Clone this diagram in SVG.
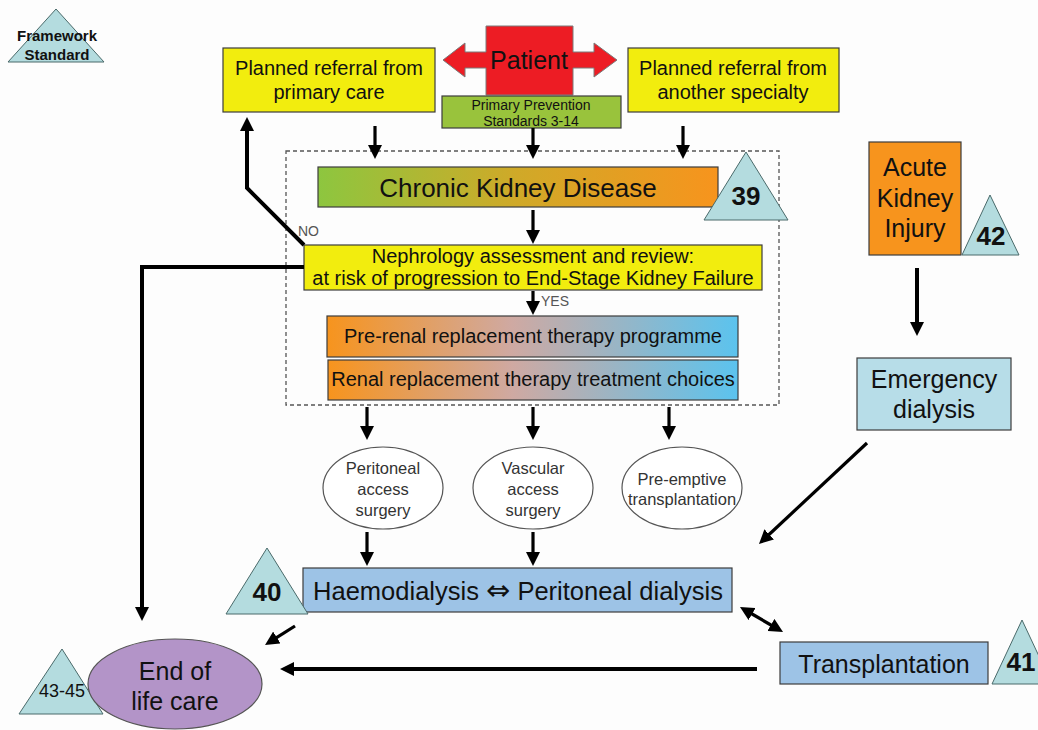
<svg xmlns="http://www.w3.org/2000/svg" width="1038" height="730" viewBox="0 0 1038 730">
<style>
.t{font-family:"Liberation Sans",Arial,"DejaVu Sans",sans-serif;fill:#111;text-anchor:middle}
.b{font-weight:bold}
.g{fill:#333}
.lbl{font-family:"Liberation Sans",Arial,sans-serif;fill:#555;font-size:14px}
.box{stroke:#3c3c3c;stroke-width:1.2}
.tri{fill:#b4dcdf;stroke:#4a6a6a;stroke-width:1}
.ell{fill:#fff;stroke:#555;stroke-width:1.2}
.c{stroke:#000;fill:none;stroke-width:3.2;marker-end:url(#ah)}
.c4{stroke-width:4}
</style>
<defs>
<marker id="ah" markerUnits="userSpaceOnUse" viewBox="0 0 14 14" refX="6" refY="7" markerWidth="14" markerHeight="14" orient="auto-start-reverse">
<path d="M0,0 L14,7 L0,14 Z" fill="#000"/>
</marker>
<linearGradient id="gCkd" x1="0" y1="0" x2="1" y2="0">
<stop offset="0" stop-color="#8dc63f"/>
<stop offset="0.5" stop-color="#d0a928"/>
<stop offset="1" stop-color="#f7941d"/>
</linearGradient>
<linearGradient id="gRrt" x1="0" y1="0" x2="1" y2="0">
<stop offset="0" stop-color="#f7941d"/>
<stop offset="0.45" stop-color="#cfa9a2"/>
<stop offset="1" stop-color="#5bc3ee"/>
</linearGradient>
</defs>
<rect width="1038" height="730" fill="#fdfdfd"/>

<g id="legend">
<polygon class="tri" points="56,9 8,62 104,62"/>
<text class="t b" x="57" y="41" font-size="15">Framework</text>
<text class="t b" x="57" y="60" font-size="15">Standard</text>
</g>

<g id="dashed-region">
<rect x="286" y="151" width="493" height="254" fill="none" stroke="#555" stroke-width="1.3" stroke-dasharray="4,3"/>
</g>

<g id="ref-primary">
<rect class="box" x="223" y="48" width="212" height="64" fill="#f2ed0e"/>
<text class="t" x="329" y="75" font-size="20">Planned referral from</text>
<text class="t" x="329" y="99" font-size="20">primary care</text>
</g>

<g id="patient">
<path d="M443,60 L465,43 L465,52 L486,52 L486,26 L573,26 L573,52 L594,52 L594,43 L617,60 L594,77 L594,68 L573,68 L573,95 L486,95 L486,68 L465,68 L465,77 Z" fill="#ed1c24" stroke="#7a7a7a" stroke-width="1"/>
<text class="t" x="529" y="69" font-size="25">Patient</text>
</g>

<g id="prevention">
<rect class="box" x="442" y="96" width="179" height="32" fill="#99c33c"/>
<text class="t" x="531" y="110" font-size="14">Primary Prevention</text>
<text class="t" x="531" y="126" font-size="14">Standards 3-14</text>
</g>

<g id="ref-specialty">
<rect class="box" x="628" y="48" width="211" height="64" fill="#f2ed0e"/>
<text class="t" x="733" y="75" font-size="20">Planned referral from</text>
<text class="t" x="733" y="99" font-size="20">another specialty</text>
</g>

<g id="ckd">
<rect class="box" x="318" y="167" width="400" height="40" fill="url(#gCkd)"/>
<text class="t" x="518" y="197" font-size="26">Chronic Kidney Disease</text>
</g>

<g id="std39">
<polygon class="tri" points="746,152 704,220 788,220"/>
<text class="t b" x="746" y="205" font-size="26">39</text>
</g>

<g id="nephrology">
<rect class="box" x="304" y="245" width="458" height="45" fill="#f2ed0e"/>
<text class="t" x="533" y="263" font-size="20">Nephrology assessment and review:</text>
<text class="t" x="533" y="285" font-size="20">at risk of progression to End-Stage Kidney Failure</text>
</g>

<g id="pre-rrt">
<rect class="box" x="327" y="316" width="411" height="41" fill="url(#gRrt)"/>
<text class="t" x="533" y="343" font-size="20">Pre-renal replacement therapy programme</text>
</g>

<g id="rrt-choices">
<rect class="box" x="328" y="360" width="410" height="40" fill="url(#gRrt)"/>
<text class="t" x="533" y="386" font-size="20">Renal replacement therapy treatment choices</text>
</g>

<g id="peritoneal-access">
<ellipse class="ell" cx="383" cy="488" rx="60" ry="41"/>
<text class="t g" x="383" y="474" font-size="16.5">Peritoneal</text>
<text class="t g" x="383" y="495" font-size="16.5">access</text>
<text class="t g" x="383" y="516" font-size="16.5">surgery</text>
</g>

<g id="vascular-access">
<ellipse class="ell" cx="533" cy="488" rx="60" ry="41"/>
<text class="t g" x="533" y="474" font-size="16.5">Vascular</text>
<text class="t g" x="533" y="495" font-size="16.5">access</text>
<text class="t g" x="533" y="516" font-size="16.5">surgery</text>
</g>

<g id="pre-emptive">
<ellipse class="ell" cx="682" cy="488" rx="60" ry="41"/>
<text class="t g" x="682" y="485" font-size="16.5">Pre-emptive</text>
<text class="t g" x="682" y="505" font-size="16.5">transplantation</text>
</g>

<g id="aki">
<rect class="box" x="869" y="142" width="92" height="113" fill="#f7941d"/>
<text class="t" x="915" y="176" font-size="25">Acute</text>
<text class="t" x="915" y="207" font-size="25">Kidney</text>
<text class="t" x="915" y="237" font-size="25">Injury</text>
</g>

<g id="std42">
<polygon class="tri" points="990,195 962,255 1019,255"/>
<text class="t b" x="991" y="245" font-size="26">42</text>
</g>

<g id="emergency">
<rect class="box" x="857" y="358" width="154" height="72" fill="#b7dde8"/>
<text class="t" x="934" y="388" font-size="25">Emergency</text>
<text class="t" x="934" y="418" font-size="25">dialysis</text>
</g>

<g id="dialysis">
<rect class="box" x="303" y="568" width="429" height="44" fill="#9dc3e6"/>
<text class="t" x="518" y="600" font-size="25.5">Haemodialysis <tspan font-family="'DejaVu Sans',sans-serif" font-size="29">⇔</tspan> Peritoneal dialysis</text>
</g>

<g id="std40">
<polygon class="tri" points="267,548 226,614 308,614"/>
<text class="t b" x="267" y="601" font-size="26">40</text>
</g>

<g id="transplant">
<rect class="box" x="780" y="642" width="208" height="42" fill="#9dc3e6"/>
<text class="t" x="884" y="673" font-size="25">Transplantation</text>
</g>

<g id="std41">
<polygon class="tri" points="1022,620 992,684 1052,684"/>
<text class="t b" x="1021" y="671" font-size="26">41</text>
</g>

<g id="eol">
<polygon class="tri" points="62,649 19,714 103,714"/>
<ellipse cx="175" cy="684" rx="87" ry="45" fill="#b394c8" stroke="#555" stroke-width="1.2"/>
<text class="t" x="62" y="697" font-size="18">43-45</text>
<text class="t" x="175" y="680" font-size="25">End of</text>
<text class="t" x="175" y="710" font-size="25">life care</text>
</g>

<g id="connectors">
<line class="c" x1="375" y1="126" x2="375" y2="151"/>
<line class="c" x1="533" y1="128" x2="533" y2="151"/>
<line class="c" x1="683" y1="126" x2="683" y2="151"/>
<line class="c" x1="533" y1="210" x2="533" y2="236"/>
<line class="c" x1="533" y1="291" x2="533" y2="307"/>
<line class="c" x1="367" y1="407" x2="367" y2="432"/>
<line class="c" x1="533" y1="407" x2="533" y2="432"/>
<line class="c" x1="669" y1="407" x2="669" y2="432"/>
<line class="c" x1="367" y1="532" x2="367" y2="558"/>
<line class="c" x1="533" y1="532" x2="533" y2="558"/>
<line class="c c4" x1="917" y1="268" x2="917" y2="328"/>
<polyline class="c c4" points="304,245 247,188 247,125"/>
<polyline class="c c4" points="304,267 142,267 142,613"/>
<line class="c" x1="867" y1="443" x2="764.8" y2="538.5"/>
<line class="c" x1="295" y1="626" x2="271.8" y2="640.7"/>
<line class="c" x1="746.9" y1="611" x2="776.1" y2="628" marker-start="url(#ah)"/>
<line class="c c4" x1="757" y1="669" x2="288" y2="669"/>
<text class="lbl" x="298" y="236">NO</text>
<text class="lbl" x="541" y="306">YES</text>
</g>
</svg>
